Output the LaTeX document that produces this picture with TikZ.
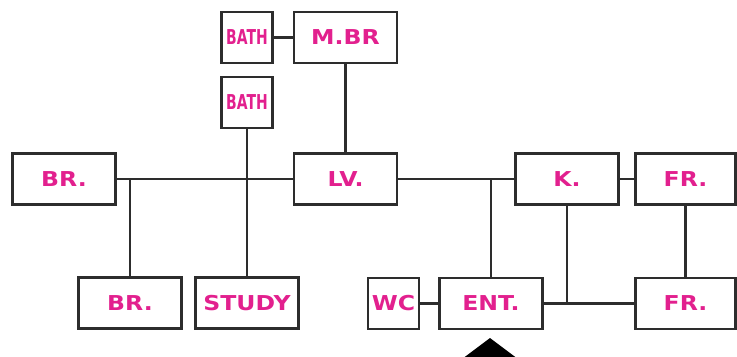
\documentclass[tikz,border=0pt]{standalone}
\usepackage{fontspec}
\newfontfamily\roomfont[FakeStretch=1.15]{DejaVu Sans}
\newfontfamily\bathfont[FakeStretch=0.68]{DejaVu Sans}
\definecolor{roomtext}{RGB}{226,32,142}
\definecolor{wall}{RGB}{45,45,45}
\begin{document}
\begin{tikzpicture}[x=0.3mm,y=-0.3mm,
	room/.style={rectangle,draw=wall,line width=0.75mm,minimum width=31mm,minimum height=15.4mm,inner sep=0pt,text=roomtext,font=\roomfont\bfseries\fontsize{17.5}{20}\selectfont},
	smallroom/.style={room,minimum width=15.4mm},
	bathroom/.style={smallroom,font=\bathfont\bfseries\fontsize{17.5}{20}\selectfont},
	link/.style={draw=wall,line width=0.75mm}]
		\useasboundingbox (0,0) rectangle (737,357);
		
		%upper floor
		\node[bathroom](batha) at (247,37.5) {BATH};
		\node[room](mbr) at (345.5,37.5) {M.BR};
		\node[bathroom](bathb) at (247,102.5) {BATH};
		%middle row
		\node[room](bra) at (64,179) {BR.};
		\node[room](lv) at (345.5,179) {LV.};
		\node[room](k) at (567,179) {K.};
		\node[room,minimum width=30mm](fra) at (685.5,179) {FR.};
		%lower row
		\node[room](brb) at (130,303) {BR.};
		\node[room](study) at (247,303) {STUDY};
		\node[smallroom](wc) at (393.5,303.5) {WC};
		\node[room](ent) at (491,303.5) {ENT.};
		\node[room,minimum width=30mm](frb) at (685.5,303.5) {FR.};
		
		%links
		\draw[link] (batha) -- (mbr);
		\draw[link] (mbr) -- (lv);
		\draw[link] (bra) -- (lv);
		\draw[link] (bathb) -- (study);
		\draw[link] (brb.north) -- (brb.north |- bra.east);
		\draw[link] (lv) -- (k);
		\draw[link] (ent.north) -- (ent.north |- k.west);
		\draw[link] (k) -- (fra);
		\draw[link] (fra) -- (frb);
		\draw[link] (wc) -- (ent);
		\draw[link] (ent) -- (frb);
		\draw[link] (k.south) -- (k.south |- ent.east);
		
		%entry arrow
		\fill[black] (490,338) -- (462,359) -- (518,359) -- cycle;
\end{tikzpicture}
\end{document}
